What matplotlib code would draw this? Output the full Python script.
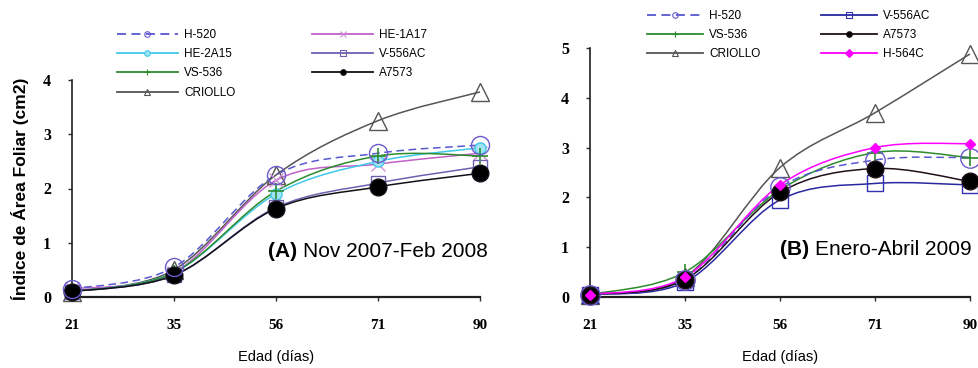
import matplotlib
matplotlib.use("Agg")
import matplotlib.pyplot as plt
from matplotlib.path import Path
from matplotlib.patches import PathPatch
from matplotlib.lines import Line2D

days = ["21", "35", "56", "71", "90"]

# Panel A: Nov 2007 - Feb 2008
a_h520 = [0.15, 0.55, 2.25, 2.65, 2.80]
a_he1a17 = [0.15, 0.45, 2.15, 2.45, 2.65]
a_he2a15 = [0.10, 0.45, 1.90, 2.50, 2.75]
a_v556ac = [0.10, 0.40, 1.65, 2.10, 2.40]
a_vs536 = [0.10, 0.45, 1.95, 2.60, 2.60]
a_a7573 = [0.10, 0.40, 1.63, 2.03, 2.28]
a_criollo = [0.10, 0.50, 2.25, 3.25, 3.78]

# Panel B: Enero - Abril 2009
b_h520 = [0.05, 0.35, 2.20, 2.75, 2.80]
b_v556ac = [0.05, 0.30, 1.95, 2.28, 2.25]
b_vs536 = [0.05, 0.50, 2.15, 2.90, 2.80]
b_a7573 = [0.05, 0.35, 2.10, 2.58, 2.32]
b_criollo = [0.05, 0.40, 2.60, 3.70, 4.88]
b_h564c = [0.05, 0.40, 2.25, 3.00, 3.08]

plt.rcParams['font.family'] = ['Liberation Sans', 'DejaVu Sans']

fig = plt.figure(figsize=(9.79, 3.68), dpi=100)
axA = fig.add_axes([72/979, 1-297/368, (480-72)/979, (297-80)/368])
axB = fig.add_axes([590/979, 1-297/368, (970-590)/979, (297-48)/368])


def smooth(ax, y, color, ls='-', lw=1.1, z=2):
    x = list(range(len(y)))
    pts = list(zip(x, y))
    verts = [pts[0]]
    codes = [Path.MOVETO]
    n = len(pts)
    for i in range(n - 1):
        p0 = pts[i - 1] if i > 0 else pts[i]
        p1 = pts[i]
        p2 = pts[i + 1]
        p3 = pts[i + 2] if i + 2 < n else pts[i + 1]
        c1 = (p1[0] + (p2[0] - p0[0]) / 6, p1[1] + (p2[1] - p0[1]) / 6)
        c2 = (p2[0] - (p3[0] - p1[0]) / 6, p2[1] - (p3[1] - p1[1]) / 6)
        verts += [c1, c2, p2]
        codes += [Path.CURVE4] * 3
    patch = PathPatch(Path(verts, codes), facecolor='none', edgecolor=color,
                      lw=lw, linestyle=ls, zorder=z, clip_on=False)
    ax.add_patch(patch)


def series(ax, y, color, ls, marker, ms, mfc, mec=None, mew=1.0, z=3):
    smooth(ax, y, color, ls=ls, z=z)
    ax.plot(range(len(y)), y, linestyle='none', marker=marker, ms=ms,
            mfc=mfc, mec=mec or color, mew=mew, zorder=z + 0.5, clip_on=False)
    return Line2D([], [], color=color, ls=ls, lw=1.3, marker=marker, ms=4,
                  mfc=mfc, mec=mec or color, mew=0.8)


# Panel A
hA = {}
hA['CRIOLLO'] = series(axA, a_criollo, '#555555', '-', '^', 13, 'none', '#555555')
hA['HE-1A17'] = series(axA, a_he1a17, '#c060c8', '-', 'x', 10, 'none', '#d090d8')
hA['HE-2A15'] = series(axA, a_he2a15, '#40c8e8', '-', 'o', 8, '#a0e4f4', '#40c8e8')
hA['VS-536'] = series(axA, a_vs536, '#2e8b2e', '-', '+', 12, 'none', '#2e8b2e', mew=1.2)
hA['V-556AC'] = series(axA, a_v556ac, '#7060b0', '-', 's', 10, 'none', '#7060b0')
hA['A7573'] = series(axA, a_a7573, '#101018', '-', 'o', 12, '#000000', '#101018')
hA['H-520'] = series(axA, a_h520, '#5858d0', (0, (5, 3)), 'o', 13, 'none', '#6a5acd')

# Panel B
hB = {}
hB['CRIOLLO'] = series(axB, b_criollo, '#555555', '-', '^', 13, 'none', '#555555')
hB['V-556AC'] = series(axB, b_v556ac, '#2828a0', '-', 's', 12, 'none', '#3030b0')
hB['VS-536'] = series(axB, b_vs536, '#2e8b2e', '-', '+', 12, 'none', '#2e8b2e', mew=1.2)
hB['H-520'] = series(axB, b_h520, '#5858d0', (0, (5, 3)), 'o', 14, 'none', '#6a5acd')
hB['A7573'] = series(axB, b_a7573, '#201018', '-', 'o', 12, '#000000', '#201018')
hB['H-564C'] = series(axB, b_h564c, '#ff00ff', '-', 'D', 5, '#ff00ff', '#ff00ff')

for ax, ymax in ((axA, 4), (axB, 5)):
    ax.set_xlim(0, 4)
    ax.set_ylim(0, ymax)
    ax.set_xticks(range(5))
    ax.set_xticklabels(days, fontfamily='Liberation Serif', fontweight='bold',
                       fontsize=11)
    ax.set_yticks(range(ymax + 1))
    ax.set_yticklabels([str(v) for v in range(ymax + 1)],
                       fontfamily='Liberation Serif', fontweight='bold', fontsize=11.5)
    for s in ('top', 'right'):
        ax.spines[s].set_visible(False)
    ax.spines['left'].set_linewidth(1.2)
    ax.spines['bottom'].set_linewidth(1.6)
    ax.spines['left'].set_color('#202020')
    ax.spines['bottom'].set_color('#202020')
    ax.tick_params(axis='both', direction='out', length=3, width=1, color='#303030')
    ax.tick_params(axis='x', pad=13)
    ax.tick_params(axis='y', pad=12)
    ax.set_xlabel('Edad (días)', fontsize=10.5, labelpad=13)
    ax.patch.set_visible(False)

axA.set_ylabel('Índice de Área Foliar (cm2)', fontsize=12.5, fontweight='bold',
               labelpad=10)


def panel_title(ax, tag, rest, x, y):
    t = ax.text(x, y, tag, transform=ax.transAxes, fontsize=15,
                fontweight='bold', ha='left', va='center')
    ax.annotate(rest, xy=(1, 0.5), xycoords=t, xytext=(4, 0),
                textcoords='offset points', fontsize=15, ha='left', va='center')


panel_title(axA, '(A)', 'Nov 2007-Feb 2008', 0.48, 0.21)
panel_title(axB, '(B)', 'Enero-Abril 2009', 0.50, 0.19)

orderA = ['H-520', 'HE-2A15', 'VS-536', 'CRIOLLO', 'HE-1A17', 'V-556AC', 'A7573']
legA = fig.legend([hA[k] for k in orderA], orderA, ncol=2, loc='upper left',
                  bbox_to_anchor=(112/979, 1-24/368), frameon=False, fontsize=8.5,
                  handlelength=5.2, columnspacing=6.5, labelspacing=0.62,
                  handletextpad=0.5, borderaxespad=0)
orderB = ['H-520', 'VS-536', 'CRIOLLO', 'V-556AC', 'A7573', 'H-564C']
legB = fig.legend([hB[k] for k in orderB], orderB, ncol=2, loc='upper left',
                  bbox_to_anchor=(642/979, 1-5/368), frameon=False, fontsize=8.5,
                  handlelength=4.8, columnspacing=5.1, labelspacing=0.62,
                  handletextpad=0.5, borderaxespad=0)

fig.savefig('out.png', dpi=100)
